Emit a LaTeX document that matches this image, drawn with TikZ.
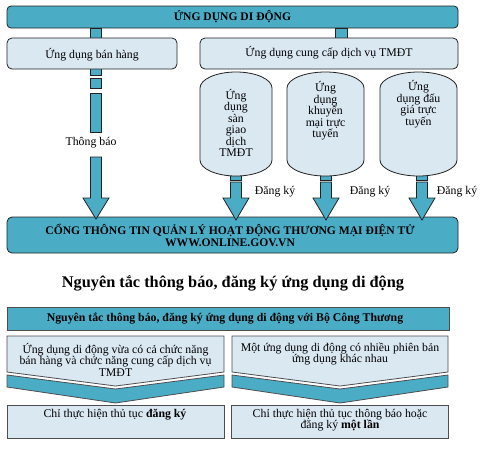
\documentclass[tikz,border=0pt]{standalone}
\usepackage{fontspec}
\setmainfont{Liberation Serif}
\definecolor{tealf}{HTML}{4BACC6}
\definecolor{lightf}{HTML}{DAE8F2}
\definecolor{edgec}{HTML}{222222}
\definecolor{gedge}{HTML}{4D4D4D}
\newcommand\blockarr[4]{%
  \draw[tealbox] (#1-5.5,#2) -- (#1+5.5,#2) -- (#1+5.5,#3) -- (#1+13,#3) -- (#1,#4) -- (#1-13,#3) -- (#1-5.5,#3) -- cycle;}
\newcommand\cylpath[2]{%
  \pgfmathsetmacro\cxc{(#1+#2)/2}\pgfmathsetmacro\ck{(#2-#1)/2*0.552}%
  \draw[lightbox] (#1,88) .. controls (#1,79.2) and (\cxc-\ck,72) .. (\cxc,72)
    .. controls (\cxc+\ck,72) and (#2,79.2) .. (#2,88) -- (#2,160)
    .. controls (#2,168.8) and (\cxc+\ck,176) .. (\cxc,176)
    .. controls (\cxc-\ck,176) and (#1,168.8) .. (#1,160) -- cycle;}
\begin{document}
\begin{tikzpicture}[x=1pt,y=-1pt,
  tealbox/.style={draw=edgec, fill=tealf, line width=0.8pt},
  lightbox/.style={draw=edgec, fill=lightf, line width=0.8pt},
  gteal/.style={draw=gedge, fill=tealf, line width=0.8pt},
  glight/.style={draw=gedge, fill=lightf, line width=0.8pt},
  txt/.style={font=\fontsize{11.8}{11.5}\selectfont, align=center, inner sep=0pt},
  btxt/.style={font=\fontsize{11.6}{12}\selectfont\bfseries, align=center, inner sep=0pt}]
\useasboundingbox (0,0) rectangle (500,451);

% ---- top part ----
\node[tealbox, rounded corners=4pt, minimum width=451pt, minimum height=22pt, inner sep=0pt] (top) at (232.5,17) {};
\node[tealbox, rounded corners=5pt, minimum width=451pt, minimum height=36pt, inner sep=0pt] (portal) at (232.5,235) {};

% left arrow (Thong bao)
\draw[tealbox] (90.5,28) rectangle (101.5,75);
\draw[tealbox] (90.5,78) rectangle (101.5,88);
\draw[tealbox] (90.5,93) rectangle (101.5,132);
\blockarr{96}{157}{198}{219}
% right stub
\draw[tealbox] (335,28) rectangle (347,40);

% cylinder arrows
\draw[tealbox] (230.5,170) rectangle (241.5,180);
\blockarr{236}{182}{198}{220}
\draw[tealbox] (320.5,170) rectangle (331.5,180);
\blockarr{326}{182}{198}{220}
\draw[tealbox] (416.5,170) rectangle (427.5,180);
\blockarr{422}{182}{198}{220}

% second row boxes
\node[lightbox, rounded corners=5pt, minimum width=170pt, minimum height=31pt, inner sep=0pt] (sell) at (92,53.5) {};
\node[lightbox, rounded corners=5pt, minimum width=258pt, minimum height=31pt, inner sep=0pt] (svc) at (329,53.5) {};

% cylinders
\cylpath{200}{272}
\cylpath{287}{364}
\cylpath{380}{457}

% texts
\node[btxt] (toptxt) at (top.center) {ỨNG DỤNG DI ĐỘNG};
\node[btxt] (portaltxt) at (230,235) {CỔNG THÔNG TIN QUẢN LÝ HOẠT ĐỘNG THƯƠNG MẠI ĐIỆN TỬ\\WWW.ONLINE.GOV.VN};
\node[txt] (selltxt) at (92,55) {Ứng dụng bán hàng};
\node[txt] (svctxt) at (329,53) {Ứng dụng cung cấp dịch vụ TMĐT};
\node[txt] (cyl1) at (236,123) {Ứng\\dụng\\sàn\\giao\\dịch\\TMĐT};
\node[txt] (cyl2) at (325.5,111) {Ứng\\dụng\\khuyến\\mại trực\\tuyến};
\node[txt] (cyl3) at (418.5,104) {Ứng\\dụng đấu\\giá trực\\tuyến};
\node[txt] (tb) at (91,143) {Thông báo};
\node[txt] (dk1) at (275,192) {Đăng ký};
\node[txt] (dk2) at (370,192) {Đăng ký};
\node[txt] (dk3) at (457,192) {Đăng ký};

% ---- lower part ----
\node[font=\fontsize{16.3}{18}\selectfont\bfseries, inner sep=0pt] (title) at (233,283) {Nguyên tắc thông báo, đăng ký ứng dụng di động};
\node[gteal, minimum width=442pt, minimum height=23pt, inner sep=0pt] (hdr) at (228,318.5) {};
\node[btxt, font=\fontsize{11.8}{12}\selectfont\bfseries] (hdrtxt) at (225,318.5) {Nguyên tắc thông báo, đăng ký ứng dụng di động với Bộ Công Thương};

\draw[glight] (7,336) -- (224,336) -- (224,372) -- (115.5,386) -- (7,372) -- cycle;
\draw[gteal] (7,375) -- (115.5,389) -- (224,375) -- (224,387) -- (115.5,403) -- (7,387) -- cycle;
\draw[glight] (232,336) -- (448,336) -- (448,372) -- (340,386) -- (232,372) -- cycle;
\draw[gteal] (232,375) -- (340,389) -- (448,375) -- (448,387) -- (340,403) -- (232,387) -- cycle;

\node[txt] (c1) at (115.5,359.5) {Ứng dụng di động vừa có cả chức năng\\bán hàng và chức năng cung cấp dịch vụ\\TMĐT};
\node[txt] (c2) at (340,354) {Một ứng dụng di động có nhiều phiên bản\\ứng dụng khác nhau};

\node[glight, minimum width=217pt, minimum height=33pt, inner sep=0pt] (r1) at (115.5,421.5) {};
\node[glight, minimum width=217pt, minimum height=33pt, inner sep=0pt] (r2) at (339.5,421.5) {};
\node[txt] (r1txt) at (115,415) {Chỉ thực hiện thủ tục \textbf{đăng ký}};
\node[txt] (r2txt) at (340,420) {Chỉ thực hiện thủ tục thông báo hoặc\\đăng ký \textbf{một lần}};
\end{tikzpicture}
\end{document}
